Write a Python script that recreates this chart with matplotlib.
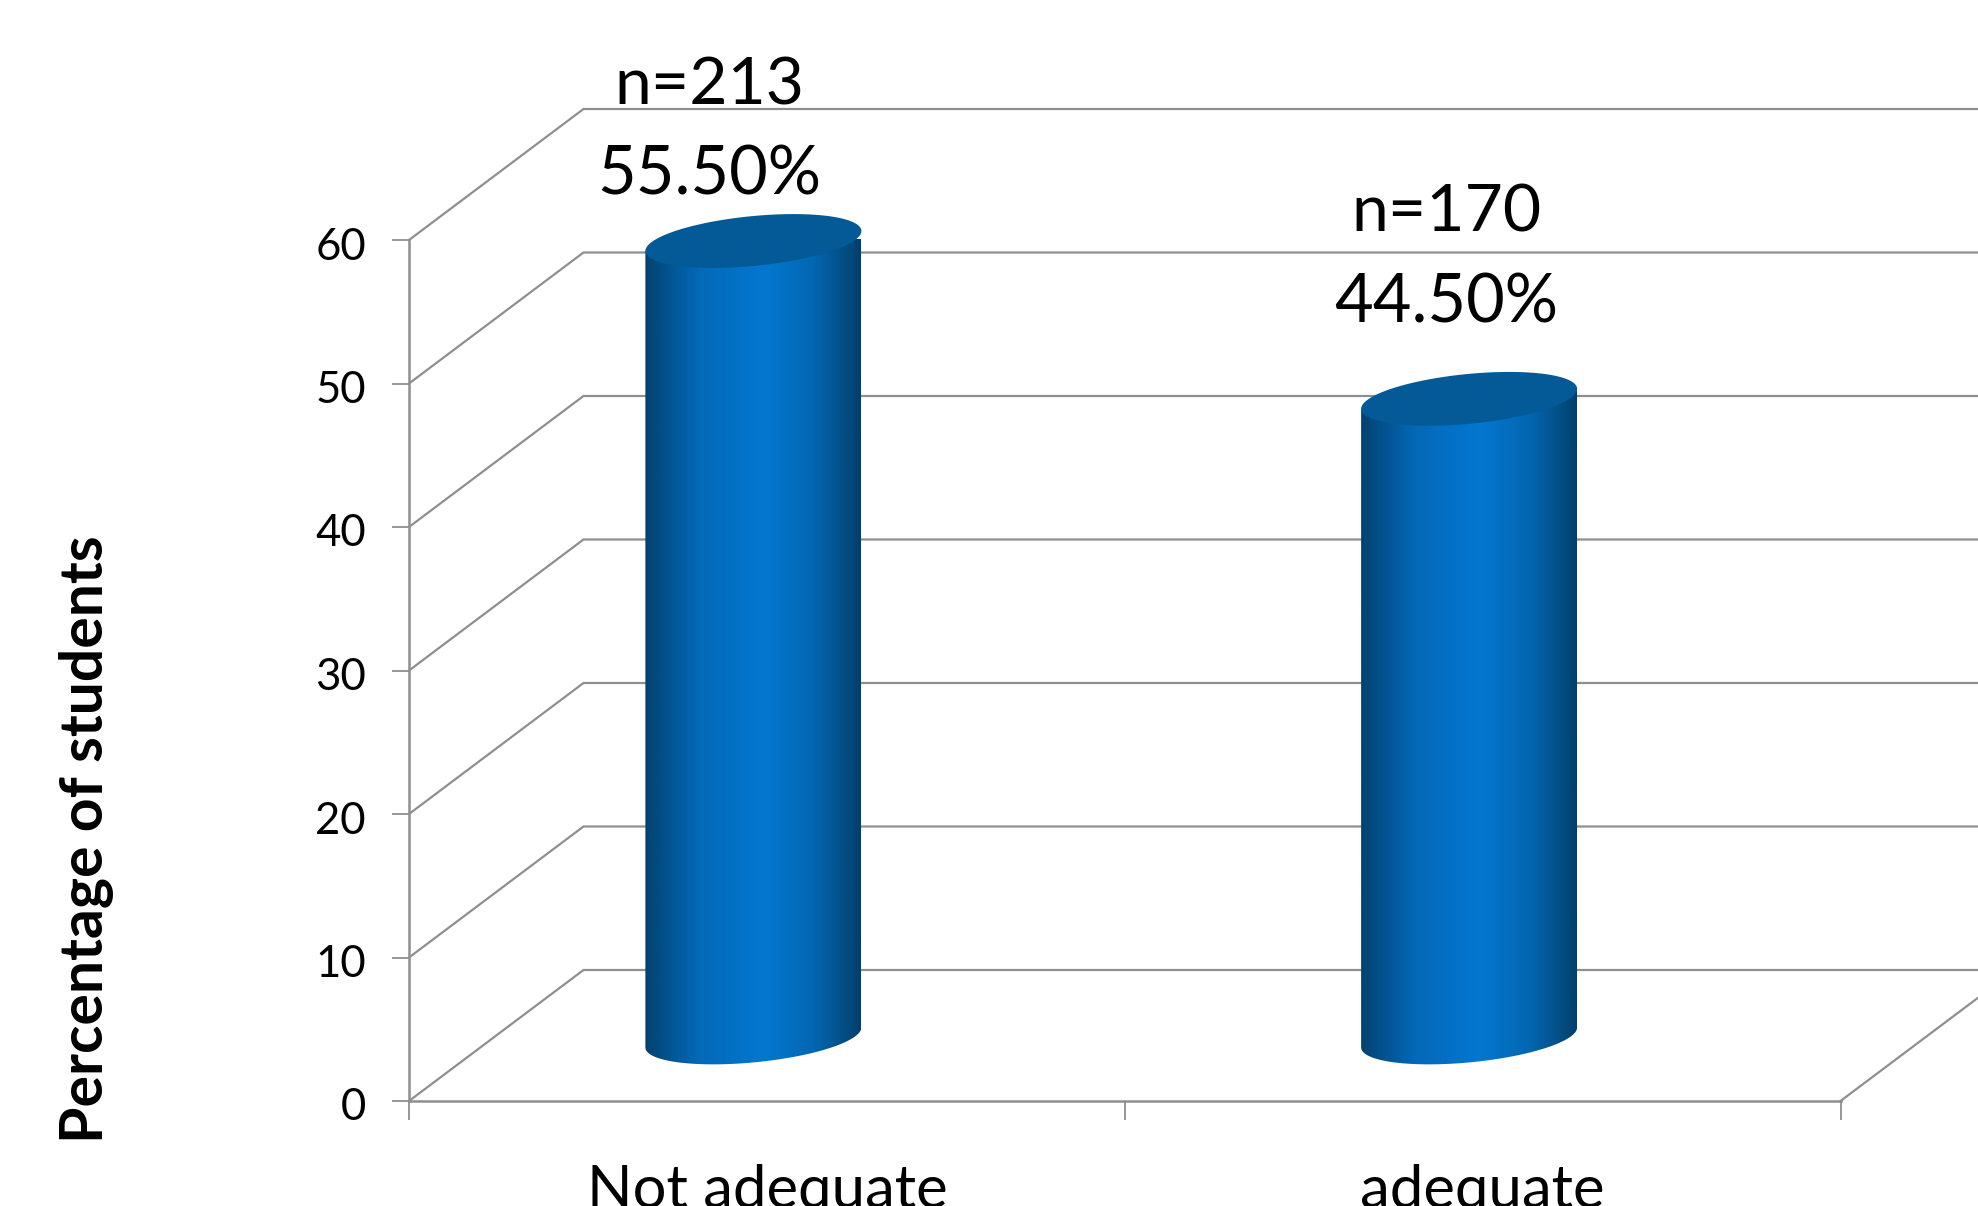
import numpy as np
import matplotlib
matplotlib.use('Agg')
import matplotlib.pyplot as plt
from matplotlib.colors import LinearSegmentedColormap
from matplotlib.patches import Polygon
from matplotlib.transforms import ScaledTranslation

categories = ['Not adequate', 'adequate']
percentages = [55.5, 44.5]
counts = [213, 170]
value_ticks = [0, 10, 20, 30, 40, 50, 60]

plt.rcParams['font.family'] = ['Lato', 'DejaVu Sans']

W, H = 1978, 1206
fig = plt.figure(figsize=(W / 100, H / 100), dpi=100, facecolor='white')

# front plane of the 3D box, the walls hang off it by a fixed depth
left, right, top, bottom = 409, 1840.5, 240, 1101
ax = fig.add_axes([left / W, 1 - bottom / H, (right - left) / W, (bottom - top) / H])
ax.set_xlim(0, 2)
ax.set_ylim(0, 60)

px_x = 2 / (right - left)
px_y = 60 / (bottom - top)
depth_x = 174.5 * px_x
depth_y = 131 * px_y
line_col = '#8f8f8f'
x_end = (W - left) * px_x

for v in value_ticks:
    ax.plot([0, depth_x, x_end], [v, v + depth_y, v + depth_y], color=line_col, lw=1.6,
            clip_on=False, zorder=1, solid_joinstyle='miter')
ax.plot([2, 2 + depth_x], [0, depth_y], color=line_col, lw=1.6, clip_on=False, zorder=1)

for side in ['top', 'right']:
    ax.spines[side].set_visible(False)
for side in ['left', 'bottom']:
    ax.spines[side].set_color(line_col)
    ax.spines[side].set_linewidth(1.8)

ax.set_yticks(value_ticks)
ax.set_xticks([0, 1, 2])
ax.set_xticklabels([])
ax.set_xticks([0.5, 1.5], minor=True)
ax.set_xticklabels(categories, minor=True, fontsize=43)
ax.tick_params(axis='x', which='major', length=14, width=1.3, color=line_col)
ax.tick_params(axis='x', which='minor', length=0, pad=45)
ax.tick_params(axis='y', length=12, width=1.3, color=line_col, labelsize=31.5, pad=19)

# value numbers sit slightly under their tick marks
nudge = ScaledTranslation(0, -3 / 100, fig.dpi_scale_trans)
for lab in ax.get_yticklabels():
    lab.set_transform(lab.get_transform() + nudge)

# cylinder shading runs across the width of each bar
shade = LinearSegmentedColormap.from_list('cyl', [
    (0.0, '#02416f'), (0.08, '#024f88'), (0.25, '#0369b8'), (0.55, '#0477d0'),
    (0.78, '#0367b2'), (0.92, '#024f86'), (1.0, '#023f6c')])
ramp = np.linspace(0, 1, 256).reshape(1, -1)

radius = 108 * px_x
skew = 10 * px_y
squash = 25 * px_y
base = 4.43
t = np.linspace(0, 2 * np.pi, 181)
lower = t[t >= np.pi]

# value labels sit at different heights above each cylinder
count_y = [70.7, 61.9]
pct_y = [64.5, 55.6]
label_x = [0.419, 1.449]

for i, val in enumerate(percentages):
    cx = i + 0.5 - 13.5 * px_x
    arc_x = cx + radius * np.cos(lower)
    arc_y = base + skew * np.cos(lower) + squash * np.sin(lower)
    body = np.column_stack([
        np.r_[cx - radius, cx + radius, arc_x[::-1]],
        np.r_[base + val - skew, base + val + skew, arc_y[::-1]],
    ])
    im = ax.imshow(ramp, cmap=shade, aspect='auto', zorder=3, interpolation='bilinear',
                   extent=[cx - radius, cx + radius, base - 2 * squash, base + val + 2 * squash])
    im.set_clip_box(None)
    im.set_clip_path(Polygon(body, closed=True, transform=ax.transData))
    # flat top of the cylinder
    ax.fill(cx + radius * np.cos(t), base + val + skew * np.cos(t) + squash * np.sin(t),
            color='#035a96', lw=0, zorder=4, clip_on=False)

    ax.text(label_x[i], count_y[i], 'n=%d' % counts[i], fontsize=47.5, ha='center', va='center',
            color='black', zorder=5, clip_on=False)
    ax.text(label_x[i], pct_y[i], '%.2f%%' % val, fontsize=48, ha='center', va='center',
            color='black', zorder=5, clip_on=False)

ax.set_xlim(0, 2)
ax.set_ylim(0, 60)

fig.text(87 / W, 1 - 839 / H, 'Percentage of students', rotation=90, fontsize=42.4, fontweight='bold',
         ha='center', va='center', color='black')

fig.savefig('out.png', dpi=100, facecolor='white')
